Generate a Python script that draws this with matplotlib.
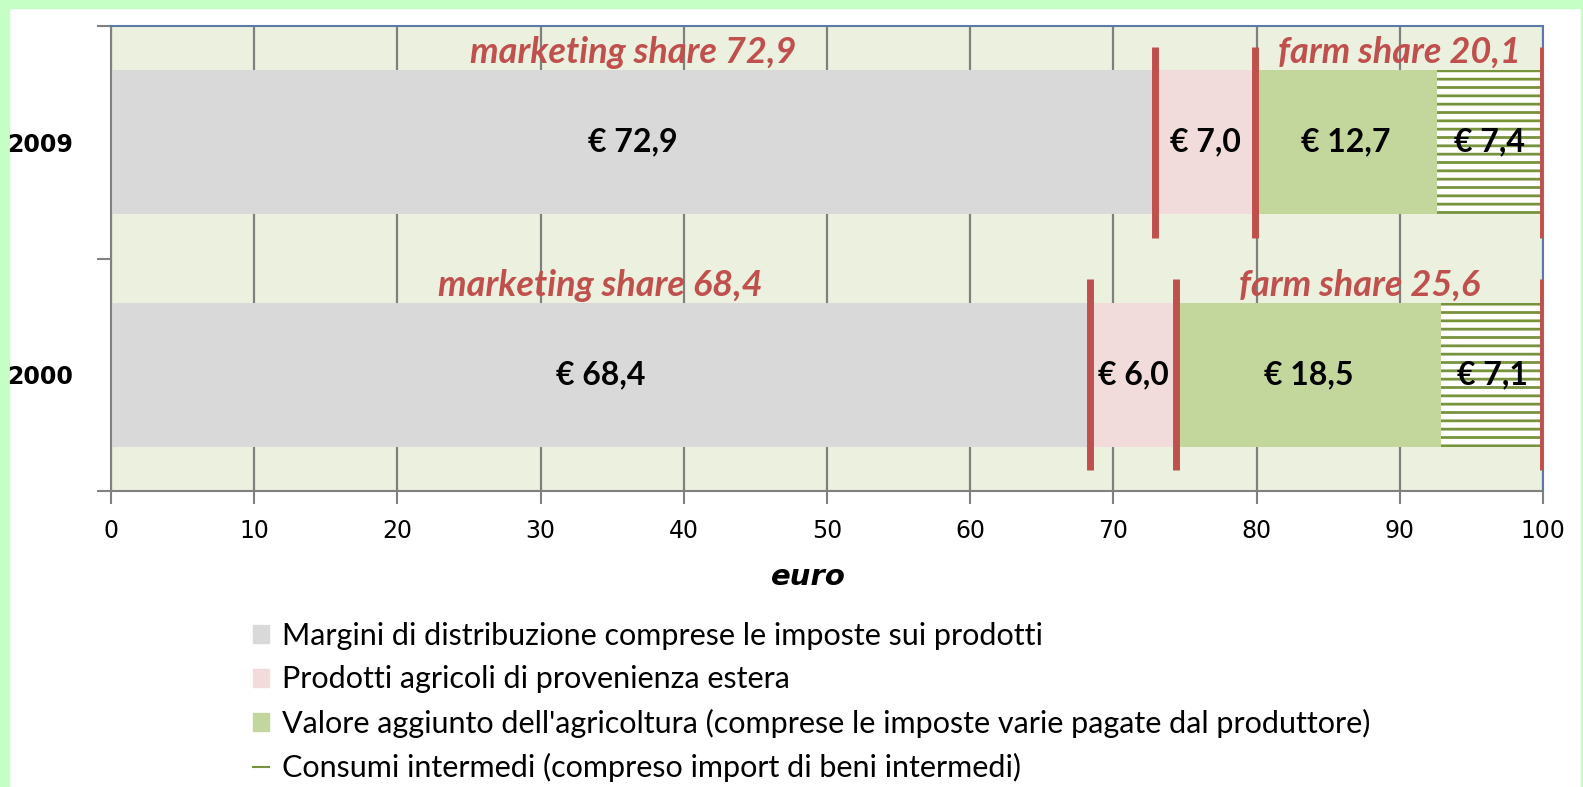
import matplotlib
matplotlib.use("Agg")
import matplotlib.pyplot as plt
from matplotlib.patches import Patch, Rectangle
from matplotlib.lines import Line2D

years = ['2000', '2009']
margini = [68.4, 72.9]
esteri = [6.0, 7.0]
valore = [18.5, 12.7]
consumi = [7.1, 7.4]
marketing_share = [68.4, 72.9]
farm_share = [25.6, 20.1]

legend_labels = [
    'Margini di distribuzione comprese le imposte sui prodotti',
    'Prodotti agricoli di provenienza estera',
    "Valore aggiunto dell'agricoltura (comprese le imposte varie pagate dal produttore)",
    'Consumi intermedi (compreso import di beni intermedi)',
]

c_gray = '#D9D9D9'
c_pink = '#F2DCDB'
c_green = '#C3D69B'
c_hatch = '#77933C'
c_red = '#C0504D'
c_bg = '#EBF1DE'

plt.rcParams['hatch.linewidth'] = 2.0

fig = plt.figure(figsize=(15.83, 7.87), dpi=100)
fig.patch.set_facecolor('white')
# light green frame on the left / top / right
fig.patches.append(Rectangle((0, 0), 9 / 1583, 1, transform=fig.transFigure,
                             color='#C6FFC6', zorder=-1))
fig.patches.append(Rectangle((0, 1 - 8 / 787), 1, 8 / 787, transform=fig.transFigure,
                             color='#C6FFC6', zorder=-1))
fig.patches.append(Rectangle((1 - 2 / 1583, 0), 2 / 1583, 1, transform=fig.transFigure,
                             color='#C6FFC6', zorder=-1))

ax = fig.add_axes([0.0701, 0.376, 0.9046, 0.591])
ax.set_facecolor(c_bg)

pos = list(range(len(years)))
h = 0.62
lab_kw = dict(ha='center', va='center', fontsize=23, fontweight='bold',
              family='Lato', zorder=5)
left = [0] * len(years)
segs = [(margini, c_gray), (esteri, c_pink), (valore, c_green)]
for vals, col in segs:
    ax.barh(pos, vals, left=left, height=h, color=col, zorder=2, linewidth=0)
    for p, l, v in zip(pos, left, vals):
        ax.text(l + v / 2, p, f'€ {v:.1f}'.replace('.', ','), **lab_kw)
    left = [a + b for a, b in zip(left, vals)]

ax.barh(pos, consumi, left=left, height=h, color='white', edgecolor=c_hatch,
        hatch='--', linewidth=0, zorder=2)
for p, l, v in zip(pos, left, consumi):
    ax.text(l + v / 2, p, f'€ {v:.1f}'.replace('.', ','), **lab_kw)

# red separator lines and share labels
share_kw = dict(ha='center', va='center', color=c_red, fontsize=26, fontweight='bold',
                style='italic', family='Lato', zorder=5)
for p, m, e, f in zip(pos, marketing_share, esteri, farm_share):
    for x in (m, m + e, 100):
        ax.plot([x, x], [p - 0.41, p + 0.41], color=c_red, lw=5, zorder=4,
                solid_capstyle='butt')
    ax.text(m / 2, p + h / 2 + 0.075, f'marketing share {m:.1f}'.replace('.', ','),
            **share_kw)
    ax.text((m + e + 100) / 2, p + h / 2 + 0.075, f'farm share {f:.1f}'.replace('.', ','),
            **share_kw)

ax.set_xlim(0, 100)
ax.set_ylim(-0.5, 1.5)
ax.set_xticks(range(0, 101, 10))
ax.tick_params(axis='x', direction='out', length=9, width=1.5, color='#808080',
               labelsize=17, pad=11)
ax.set_yticks(pos)
ax.set_yticklabels(years, fontsize=17, fontweight='bold')
ax.tick_params(axis='y', length=0, pad=27)
ax.set_yticks([-0.5, 0.5, 1.5], minor=True)
ax.tick_params(axis='y', which='minor', direction='out', length=10, width=1.5,
               color='#808080')

ax.xaxis.grid(True, color='#7F7F7F', lw=1.6, zorder=1)
ax.set_axisbelow(True)
for s in ('left', 'bottom'):
    ax.spines[s].set_color('#808080')
    ax.spines[s].set_linewidth(1.5)
for s in ('top', 'right'):
    ax.spines[s].set_color('#5B7BA6')
    ax.spines[s].set_linewidth(1.5)

ax.set_xlabel('euro', fontsize=21, fontweight='bold', style='italic')
ax.xaxis.set_label_coords(0.487, -0.155)

handles = [Patch(color=c_gray), Patch(color=c_pink), Patch(color=c_green),
           Line2D([], [], color=c_hatch, lw=1.5)]
fig.legend(handles, legend_labels, loc='upper left', bbox_to_anchor=(0.152, 0.225),
           frameon=False, prop={'family': 'Lato', 'size': 22}, handlelength=0.52,
           handleheight=0.52, handletextpad=0.45, labelspacing=0.5,
           borderaxespad=0)

fig.savefig('out.png', dpi=100, facecolor='white')
